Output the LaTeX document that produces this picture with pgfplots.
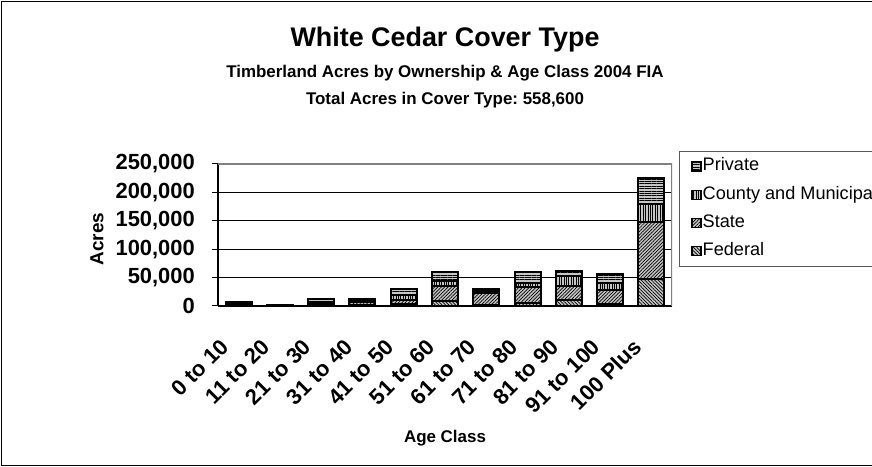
\documentclass[border=0pt]{standalone}
\usepackage{pgfplots}
\pgfplotsset{compat=1.18}
\usepackage{fontspec}
\setmainfont{Liberation Sans}
\usetikzlibrary{patterns.meta}
\frenchspacing
\pgfplotstableread{
x Federal State County Private
0 1000 2000 1000 3000
1 500 1000 500 500
2 1500 4000 1500 5000
3 2000 5000 2000 4000
4 3000 7000 10000 10500
5 9400 26000 8800 14800
6 1000 22000 3000 4000
7 4700 28000 7000 21000
8 10500 25000 17600 8900
9 3500 24500 11700 16300
10 47500 100900 30500 47000
}\datatable
\begin{document}
\begin{tikzpicture}
\useasboundingbox (0bp,0bp) rectangle (872bp,467bp);
\clip (0bp,0bp) rectangle (872bp,467bp);
\fill[white] (0bp,0bp) rectangle (872bp,467bp);
\draw[line width=1.2bp] (1.5bp,1.5bp) rectangle (920bp,465.5bp);
\node[font=\bfseries\fontsize{27}{31}\selectfont] at (445bp,427bp) {White Cedar Cover Type};
\node[font=\bfseries\fontsize{17}{20}\selectfont] at (445bp,394bp) {Timberland Acres by Ownership \& Age Class 2004 FIA};
\node[font=\bfseries\fontsize{17}{20}\selectfont] at (445bp,367bp) {Total Acres in Cover Type: 558,600};
\node[font=\bfseries\fontsize{17}{20}\selectfont] at (445bp,29bp) {Age Class};
\node[font=\bfseries\fontsize{19}{22}\selectfont, rotate=90] at (97bp,228bp) {Acres};
\begin{axis}[
  at={(218bp,161bp)}, anchor=south west,
  width=454bp, height=142bp, scale only axis,
  ybar stacked, bar width=26bp,
  xmin=-0.5, xmax=10.5, ymin=0, ymax=250000,
  axis x line*=bottom, axis y line*=left,
  axis line style={line width=1.5bp, black},
  xtick={0,...,10},
  xticklabels={0 to 10,11 to 20,21 to 30,31 to 40,41 to 50,51 to 60,61 to 70,71 to 80,81 to 90,91 to 100,100 Plus},
  minor xtick={-0.5,0.5,...,10.5},
  xtick style={draw=none},
  minor x tick style={line width=1bp, black},
  minor tick length=6bp,
  ytick={0,50000,...,250000},
  y tick style={line width=1bp, black},
  major tick length=6bp,
  tick align=outside,
  ymajorgrids, major grid style={line width=1bp, black},
  scaled y ticks=false,
  /pgf/number format/assume math mode=true,
  /pgf/number format/fixed,
  /pgf/number format/1000 sep={,},
  yticklabel style={font=\bfseries\fontsize{22}{24}\selectfont, inner sep=0pt, anchor=east, xshift=-17bp},
  xticklabel style={font=\bfseries\fontsize{22}{24}\selectfont, inner sep=0pt, xshift=-14bp, yshift=-31bp, rotate=45, anchor=east},
  legend style={at={(1.0154,0.2746)}, anchor=south west, draw=gray!70!black, line width=1bp,
    font=\fontsize{18.2}{21}\selectfont, row sep=10bp, inner xsep=12bp, inner ysep=6bp,
    nodes={inner sep=1bp, text height=12.6bp, text depth=3.7bp}},
  legend cell align=left,
  reverse legend,
  legend image code/.code={\draw[#1, line width=1.2bp] (0bp,-4.5bp) rectangle (9bp,4.5bp);},
  every axis plot/.append style={draw=black, line width=2bp},
]
\addplot[fill=gray!45, postaction={pattern={Lines[angle=-45,distance=2.4bp,line width=0.7bp]}}] table[x=x,y=Federal]{\datatable};
\addplot[fill=gray!45, postaction={pattern={Lines[angle=45,distance=2.4bp,line width=0.7bp]}}] table[x=x,y=State]{\datatable};
\addplot[fill=gray!45, postaction={pattern={Lines[angle=90,distance=2.4bp,line width=0.7bp]}}] table[x=x,y=County]{\datatable};
\addplot[fill=gray!45, postaction={pattern={Lines[angle=0,distance=2.4bp,line width=0.7bp]}}] table[x=x,y=Private]{\datatable};
\legend{Federal,State,County and Municipal,Private}
\draw[gray, line width=1.5bp] (rel axis cs:0,1) -- (rel axis cs:1,1) -- (rel axis cs:1,0);
\end{axis}
\end{tikzpicture}
\end{document}
